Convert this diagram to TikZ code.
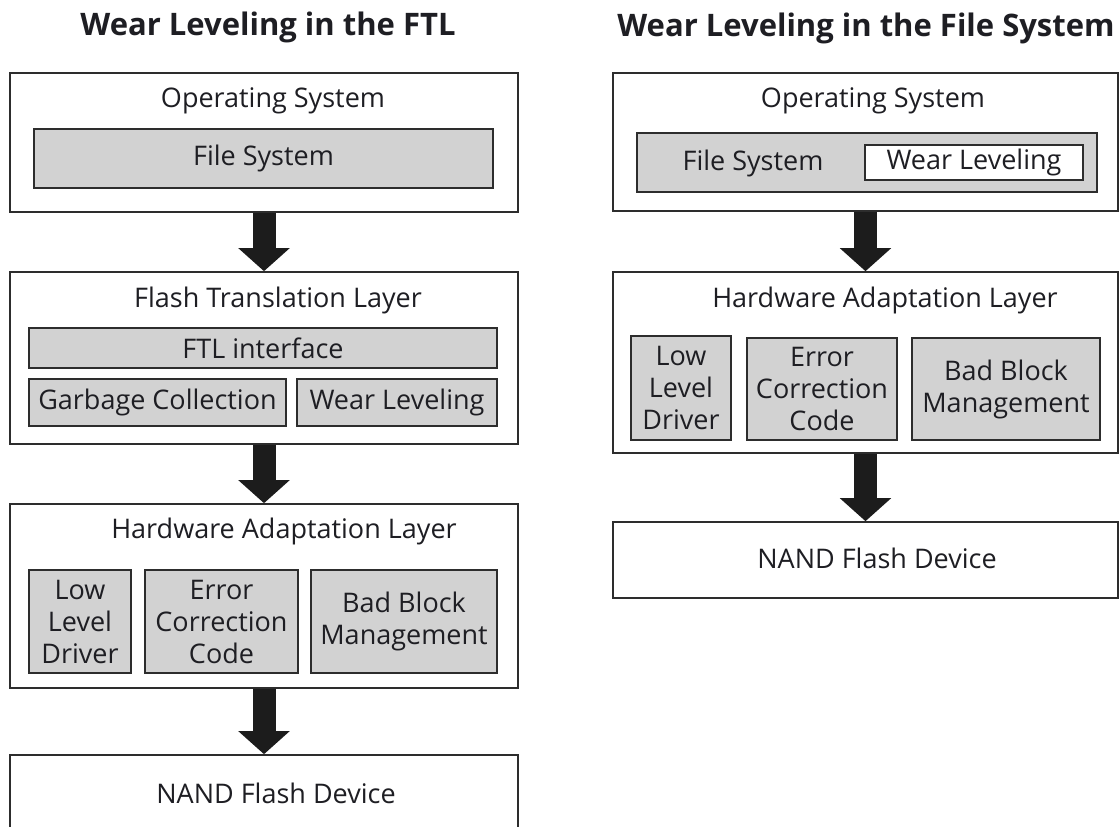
\documentclass[tikz,border=0pt]{standalone}
\usepackage{fontspec}
\setmainfont{Open Sans}
\usetikzlibrary{arrows.meta}
\definecolor{boxgray}{RGB}{210,210,210}
\definecolor{linecol}{RGB}{45,45,45}
\definecolor{arrowcol}{RGB}{28,28,28}
\definecolor{txtcol}{RGB}{30,30,35}
% \mybox{style}{name}{x1}{y1}{x2}{y2}{text}
\newcommand\mybox[7]{%
  \node[#1, minimum width={(#5-#3)*1pt}, minimum height={(#6-#4)*1pt}] (#2)
    at ({(#3+#5)/2},{(#4+#6)/2}) {#7};}
\begin{document}
\begin{tikzpicture}[x=1pt,y=-1pt,
  layerbox/.style={draw=linecol, line width=1.6pt, fill=white, inner sep=0pt},
  graybox/.style={draw=linecol, line width=1.6pt, fill=boxgray, inner sep=0pt, align=center,
    text=txtcol, font=\fontsize{27}{32}\selectfont},
  whitebox/.style={graybox, fill=white},
  lbl/.style={inner sep=0pt, anchor=base, text=txtcol, font=\fontsize{27}{32}\selectfont},
  ttl/.style={inner sep=0pt, anchor=base, text=txtcol, font=\bfseries\fontsize{31}{36}\selectfont},
  bigarrow/.style={draw=arrowcol, line width=23pt,
    -{Triangle[width=50pt, length=23pt, fill=arrowcol]}}
]
\useasboundingbox (0,0) rectangle (1120,827);
\fill[white] (0,0) rectangle (1120,827);
\clip (0,0) rectangle (1120,827);

% ---------------- left column ----------------
\node[ttl] (title1) at (268,35) {Wear Leveling in the FTL};

\mybox{layerbox}{os1}{10}{73}{518}{212}{}
\node[lbl] (os1t) at (273,107) {Operating System};
\mybox{graybox}{fs1}{34}{129}{493}{188}{File System}

\mybox{layerbox}{ftl1}{10}{272}{518}{444}{}
\node[lbl] (ftl1t) at (278,307) {Flash Translation Layer};
\mybox{graybox}{ftli}{29}{328}{497}{368}{FTL interface}
\mybox{graybox}{gc}{29}{379}{286}{426}{Garbage Collection}
\mybox{graybox}{wl1}{297}{379}{497}{426}{Wear Leveling}

\mybox{layerbox}{hal1}{10}{504}{518}{688}{}
\node[lbl] (hal1t) at (284,538) {Hardware Adaptation Layer};
\mybox{graybox}{lld1}{29}{570}{131}{673}{Low\\Level\\Driver}
\mybox{graybox}{ecc1}{145}{570}{298}{673}{Error\\Correction\\Code}
\mybox{graybox}{bbm1}{311}{570}{497}{673}{Bad Block\\Management}

\mybox{layerbox}{nand1}{10}{755}{518}{845}{}
\node[lbl] (nand1t) at (276,803) {NAND Flash Device};

\draw[bigarrow] (os1.south) -- (ftl1.north);
\draw[bigarrow] (ftl1.south) -- (hal1.north);
\draw[bigarrow] (hal1.south) -- (nand1.north);

% ---------------- right column ----------------
\node[ttl] (title2) at (866,36) {Wear Leveling in the File System};

\mybox{layerbox}{os2}{613}{73}{1118}{211}{}
\node[lbl] (os2t) at (873,107) {Operating System};
\mybox{graybox}{fs2}{637}{133}{1097}{192}{}
\node[lbl] (fs2t) at (753,170) {File System};
\mybox{whitebox}{wl2}{865}{145}{1083}{180}{Wear Leveling}

\mybox{layerbox}{hal2}{613}{272}{1118}{453}{}
\node[lbl] (hal2t) at (885,307) {Hardware Adaptation Layer};
\mybox{graybox}{lld2}{631}{336}{731}{440}{Low\\Level\\Driver}
\mybox{graybox}{ecc2}{747}{338}{897}{440}{Error\\Correction\\Code}
\mybox{graybox}{bbm2}{912}{338}{1100}{440}{Bad Block\\Management}

\mybox{layerbox}{nand2}{613}{522}{1118}{598}{}
\node[lbl] (nand2t) at (877,568) {NAND Flash Device};

\draw[bigarrow] (os2.south) -- (hal2.north);
\draw[bigarrow] (hal2.south) -- (nand2.north);
\end{tikzpicture}
\end{document}
